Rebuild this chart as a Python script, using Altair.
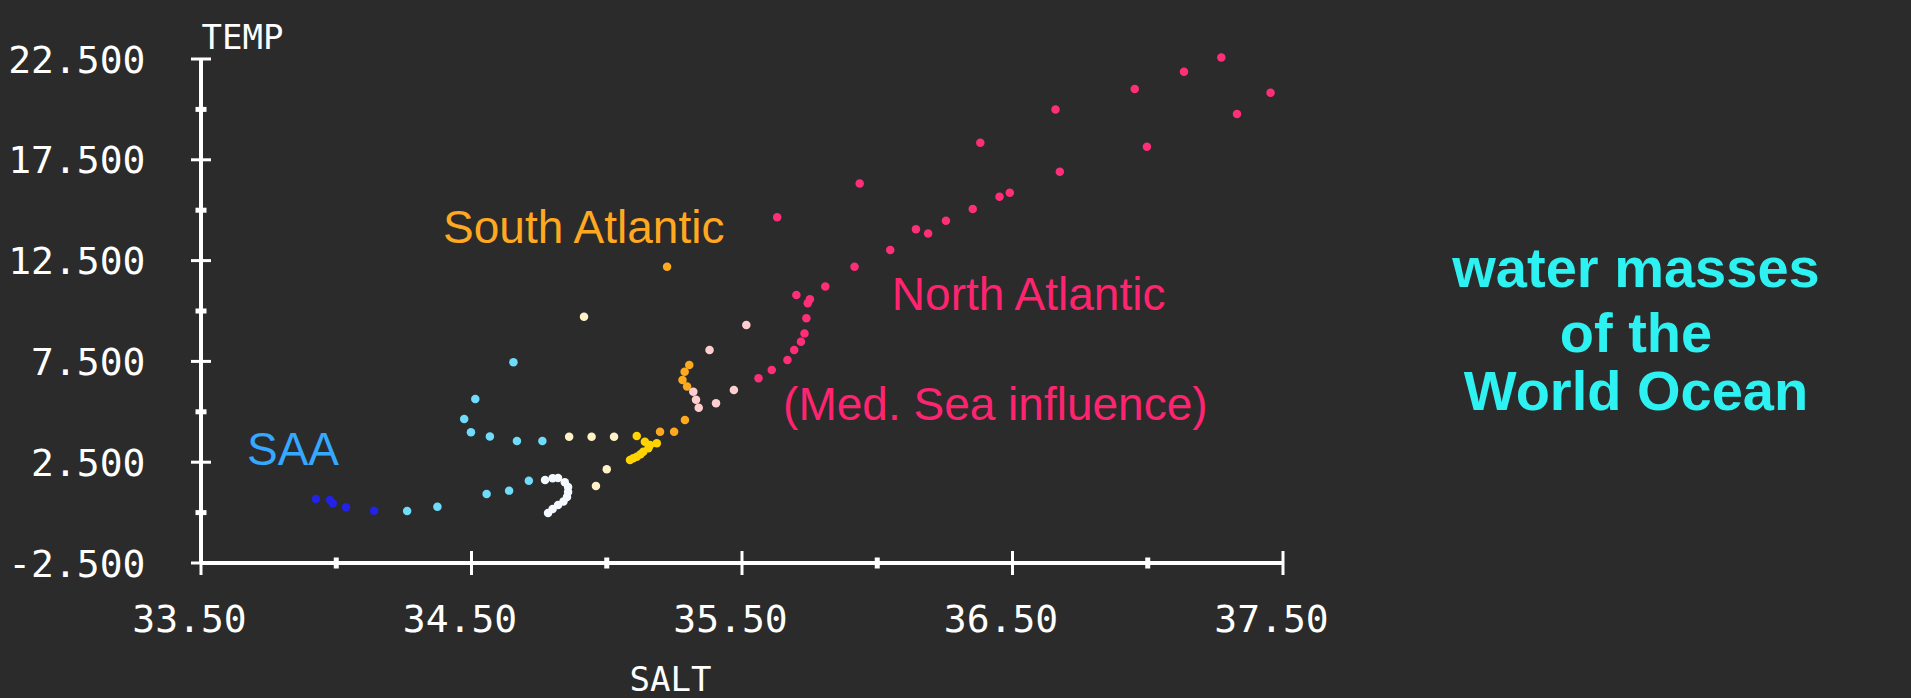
import altair as alt
import pandas as pd

# ---------------- data ----------------
saa_salt = [33.925, 33.977, 33.987, 34.036, 34.140]
saa_temp = [0.67, 0.63, 0.46, 0.26, 0.09]

inter_salt = [34.262, 34.374, 34.556, 34.639, 34.712, 34.473, 34.498, 34.514, 34.568, 34.655, 34.668, 34.762]
inter_temp = [0.08, 0.29, 0.92, 1.09, 1.58, 4.64, 3.98, 5.63, 3.77, 7.46, 3.55, 3.55]

white_salt = [34.772, 34.800, 34.820, 34.845, 34.857, 34.857, 34.853, 34.840, 34.820, 34.800, 34.783]
white_temp = [1.62, 1.70, 1.72, 1.50, 1.27, 1.02, 0.77, 0.55, 0.38, 0.18, -0.02]

cream_salt = [34.861, 34.944, 35.027, 34.916, 35.000, 34.960]
cream_temp = [3.76, 3.76, 3.76, 9.72, 2.15, 1.32]

yellow_salt = [35.086, 35.098, 35.111, 35.125, 35.135, 35.154, 35.111, 35.141, 35.160, 35.185]
yellow_temp = [2.61, 2.70, 2.77, 2.90, 3.02, 3.19, 3.80, 3.52, 3.35, 3.44]

orange_salt = [35.197, 35.249, 35.289, 35.297, 35.280, 35.288, 35.305, 35.223]
orange_temp = [4.01, 4.01, 4.59, 6.25, 6.58, 6.99, 7.32, 12.20]

pale_salt = [35.320, 35.330, 35.340, 35.404, 35.470, 35.380, 35.516]
pale_temp = [6.00, 5.60, 5.20, 5.42, 6.08, 8.07, 9.31]

na_salt = [35.561, 35.610, 35.668, 35.693, 35.718, 35.731, 35.738, 35.743, 35.701, 35.751,
           35.808, 35.916, 36.048, 36.143, 36.188, 36.254, 36.353, 36.452, 36.490, 36.675,
           36.997, 37.330, 37.454, 35.630, 35.935, 36.381, 36.659, 36.952, 37.134, 37.272]
na_temp = [6.66, 7.07, 7.57, 8.07, 8.48, 8.89, 9.64, 10.38, 10.79, 10.58,
           11.21, 12.20, 13.03, 14.05, 13.85, 14.48, 15.06, 15.67, 15.87, 16.91,
           18.15, 19.77, 20.83, 14.65, 16.33, 18.35, 20.00, 21.01, 21.87, 22.58]

groups = ["SAA", "intermediate", "white", "cream", "yellow", "orange", "pale", "north"]
group_colors = ["#2222E8", "#6EDCFA", "#F4F8FF", "#FFF2C6", "#FFD400", "#FFAA1E", "#FFCFCF", "#FF2E78"]

ann_text = ["South Atlantic", "North Atlantic", "(Med. Sea influence)", "SAA"]
ann_salt = [34.395, 36.054, 35.652, 33.670]
ann_temp = [13.37, 10.05, 4.59, 2.36]
ann_colors = ["#FFA820", "#FF2470", "#FF2470", "#35A8FF"]

title_lines = ["water masses", "of the", "World Ocean"]
title_salt = [38.805, 38.805, 38.805]
title_temp = [11.19, 7.97, 5.09]

x_major = [33.5, 34.5, 35.5, 36.5, 37.5]
x_minor = [34.0, 35.0, 36.0, 37.0]
y_major = [-2.5, 2.5, 7.5, 12.5, 17.5, 22.5]
y_minor = [0.0, 5.0, 10.0, 15.0, 20.0]

# ---------------- tables ----------------
series = [(groups[0], saa_salt, saa_temp), (groups[1], inter_salt, inter_temp),
          (groups[2], white_salt, white_temp), (groups[3], cream_salt, cream_temp),
          (groups[4], yellow_salt, yellow_temp), (groups[5], orange_salt, orange_temp),
          (groups[6], pale_salt, pale_temp), (groups[7], na_salt, na_temp)]
rows = []
for g, xs_, ys_ in series:
    for xv, yv in zip(xs_, ys_):
        rows.append({"group": g, "salt": xv, "temp": yv})
pts = pd.DataFrame(rows)

ann = pd.DataFrame({"text": ann_text, "salt": ann_salt, "temp": ann_temp, "kind": ann_text})
ttl = pd.DataFrame({"text": title_lines, "salt": title_salt, "temp": title_temp})

XMIN, XMAX = 33.5, 37.5
YMIN, YMAX = -2.5, 22.5
xs = alt.Scale(domain=[XMIN, XMAX], nice=False, zero=False)
ys = alt.Scale(domain=[YMIN, YMAX], nice=False, zero=False)

LABEL_FONT = "DejaVu Sans Mono"
TEXT_FONT = "Liberation Sans"

x_axis = alt.Axis(values=x_major, format=".2f", domain=False, ticks=False, grid=False,
                  labelFont=LABEL_FONT, labelFontSize=38, labelColor="#FFFFFF",
                  labelPadding=38, labelOffset=-12, labelFlush=False, labelOverlap=False,
                  title="SALT", titleFont=LABEL_FONT, titleFontSize=34, titleFontWeight="normal",
                  titleColor="#FFFFFF", titleX=428, titleY=127, titleAlign="left",
                  titleBaseline="alphabetic", titleAnchor="start")
y_axis = alt.Axis(values=y_major, format=".3f", domain=False, ticks=False, grid=False,
                  labelExpr="replace(datum.label, '\u2212', '-')",
                  labelFont=LABEL_FONT, labelFontSize=38, labelColor="#FFFFFF",
                  labelPadding=56, labelOffset=2, labelFlush=False, labelOverlap=False,
                  title="TEMP", titleFont=LABEL_FONT, titleFontSize=34, titleFontWeight="normal",
                  titleColor="#FFFFFF", titleAngle=0, titleX=0, titleY=-11, titleAlign="left",
                  titleBaseline="alphabetic", titleAnchor="start")


def X(field):
    return alt.X(field, scale=xs, axis=x_axis)


def Y(field):
    return alt.Y(field, scale=ys, axis=y_axis)


points = alt.Chart(pts).mark_circle(size=72, opacity=1).encode(
    x=X("salt:Q"),
    y=Y("temp:Q"),
    color=alt.Color("group:N", scale=alt.Scale(domain=groups, range=group_colors), legend=None),
)

white = "#FFFFFF"
x_line = alt.Chart(pd.DataFrame({"salt": [XMIN], "b": [XMAX], "temp": [YMIN]})).mark_rule(
    color=white, strokeWidth=4).encode(x=X("salt:Q"), x2="b:Q", y=Y("temp:Q"))
y_line = alt.Chart(pd.DataFrame({"salt": [XMIN], "temp": [YMIN], "b": [YMAX]})).mark_rule(
    color=white, strokeWidth=4).encode(x=X("salt:Q"), y=Y("temp:Q"), y2="b:Q")

xt_major = alt.Chart(pd.DataFrame({"salt": x_major, "temp": [YMIN] * len(x_major)})).mark_tick(
    orient="vertical", size=24, thickness=3, color=white, opacity=1).encode(
    x=X("salt:Q"), y=Y("temp:Q"))
xt_minor = alt.Chart(pd.DataFrame({"salt": x_minor, "temp": [YMIN] * len(x_minor)})).mark_tick(
    orient="vertical", size=11, thickness=5, color=white, opacity=1).encode(
    x=X("salt:Q"), y=Y("temp:Q"))
yt_major = alt.Chart(pd.DataFrame({"temp": y_major, "salt": [XMIN] * len(y_major)})).mark_tick(
    orient="horizontal", size=20, thickness=3, color=white, opacity=1).encode(
    y=Y("temp:Q"), x=X("salt:Q"))
yt_minor = alt.Chart(pd.DataFrame({"temp": y_minor, "salt": [XMIN] * len(y_minor)})).mark_tick(
    orient="horizontal", size=11, thickness=5, color=white, opacity=1).encode(
    y=Y("temp:Q"), x=X("salt:Q"))

ann_layer = alt.Chart(ann).mark_text(font=TEXT_FONT, fontSize=46, align="left",
                                     baseline="alphabetic").encode(
    x=X("salt:Q"),
    y=Y("temp:Q"),
    text="text:N",
    color=alt.Color("kind:N", scale=alt.Scale(domain=ann_text, range=ann_colors), legend=None),
)

title_layer = alt.Chart(ttl).mark_text(font=TEXT_FONT, fontSize=56, fontWeight="bold",
                                       align="center", baseline="alphabetic",
                                       color="#2EF2F2").encode(
    x=X("salt:Q"),
    y=Y("temp:Q"),
    text="text:N",
)

W, H = 1082, 504
chart = alt.layer(points, x_line, y_line, xt_major, xt_minor, yt_major, yt_minor,
                  ann_layer, title_layer).resolve_scale(color="independent").properties(
    width=W, height=H,
    padding={"left": 201, "top": 59, "right": 1911 - 201 - W, "bottom": 698 - 59 - H},
    autosize=alt.AutoSizeParams(type="none"),
    background="#2B2B2B",
).configure_view(strokeWidth=0)

chart.save("out.html", embed_options={"renderer": "svg", "actions": False})
